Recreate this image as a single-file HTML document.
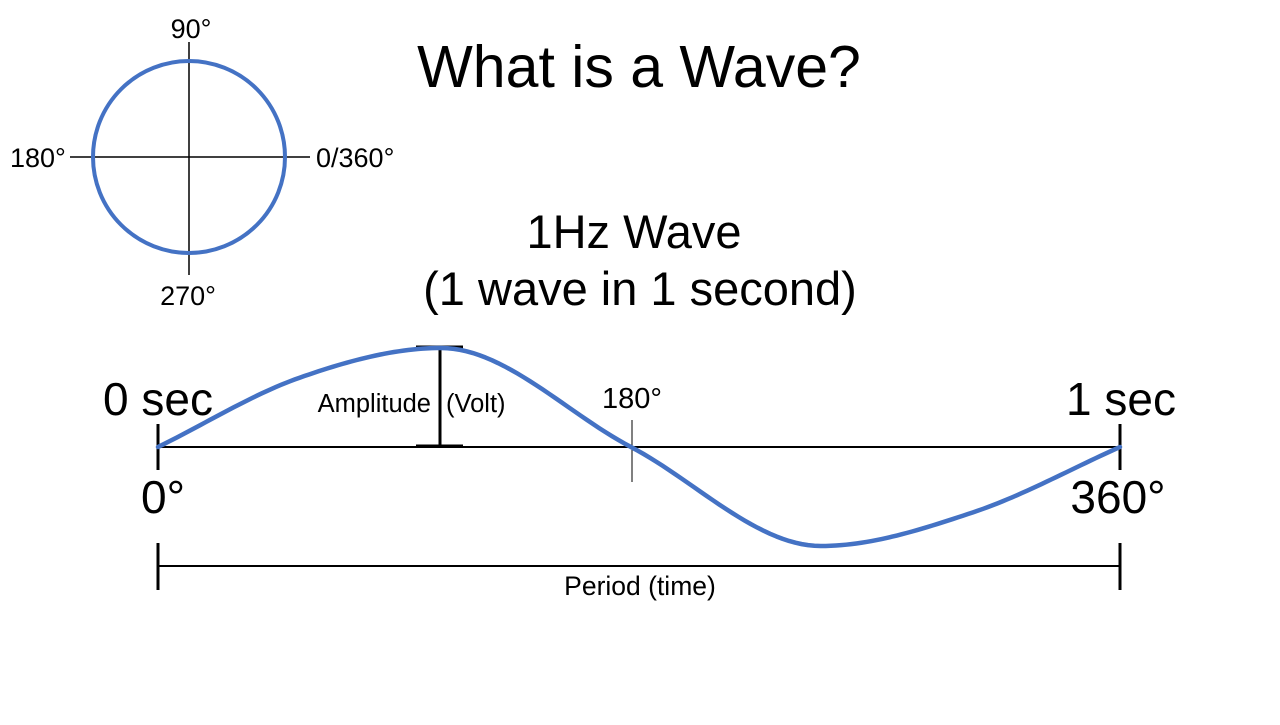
<!DOCTYPE html>
<html><head><meta charset="utf-8"><style>
body{margin:0;background:#fff;}
svg text{font-family:"Liberation Sans",Arial,sans-serif;fill:#000;}
</style></head><body>
<svg id="chart" width="1280" height="720">
<rect width="1280" height="720" fill="#fff"/>
<text x="639" y="87" font-size="59" text-anchor="middle">What is a Wave?</text>
<g>
<line x1="70" y1="157" x2="310" y2="157" stroke="#000" stroke-width="1.5"/>
<line x1="189" y1="42" x2="189" y2="275" stroke="#000" stroke-width="1.5"/>
<circle cx="189" cy="157" r="96" fill="none" stroke="#4472C4" stroke-width="4"/>
<text x="191" y="38" font-size="27" text-anchor="middle">90°</text>
<text x="10" y="167" font-size="27">180°</text>
<text x="316" y="167" font-size="27">0/360°</text>
<text x="188" y="305" font-size="27" text-anchor="middle">270°</text>
</g>
<text x="634" y="248" font-size="47" text-anchor="middle">1Hz Wave</text>
<text x="640" y="305" font-size="47" text-anchor="middle">(1 wave in 1 second)</text>
<line x1="158" y1="447" x2="1120" y2="447" stroke="#000" stroke-width="2"/>
<line x1="158" y1="424" x2="158" y2="470" stroke="#000" stroke-width="3"/>
<line x1="1120" y1="424" x2="1120" y2="470" stroke="#000" stroke-width="3"/>
<line x1="632" y1="420" x2="632" y2="482" stroke="#000" stroke-width="1"/>
<text x="158" y="415" font-size="46" text-anchor="middle">0 sec</text>
<text x="1121" y="415" font-size="46" text-anchor="middle">1 sec</text>
<text x="163" y="513" font-size="46" text-anchor="middle">0°</text>
<text x="1118" y="513" font-size="46" text-anchor="middle">360°</text>
<text x="632" y="408" font-size="29" text-anchor="middle">180°</text>
<g>
<line x1="440" y1="347" x2="440" y2="446" stroke="#000" stroke-width="3"/>
<line x1="416" y1="347" x2="463" y2="347" stroke="#000" stroke-width="3"/>
<line x1="416" y1="446" x2="463" y2="446" stroke="#000" stroke-width="3"/>
</g>
<text x="431" y="412" font-size="25.5" text-anchor="end">Amplitude</text>
<text x="446" y="412" font-size="25.5">(Volt)</text>
<path id="wave" fill="none" stroke="#4472C4" stroke-width="4.5" stroke-linecap="round" stroke-linejoin="round"/>
<g>
<line x1="158" y1="566" x2="1120" y2="566" stroke="#000" stroke-width="2"/>
<line x1="158" y1="543" x2="158" y2="590" stroke="#000" stroke-width="3"/>
<line x1="1120" y1="543" x2="1120" y2="590" stroke="#000" stroke-width="3"/>
</g>
<text x="640" y="595" font-size="26.5" text-anchor="middle">Period (time)</text>
</svg>
<script>
const phases = [0,53,106,177,248,305,360];
const amplitudes = [0,0.70,1.0,0,-1.0,-0.66,0];
function xScale(p){return 158 + p*(1120-158)/360;}
function yScale(a){return 447 - a*99;}
// cubic Hermite: zero slope at extrema, averaged secant slope elsewhere
const n = phases.length;
const dl = [], m = [];
for(let i=0;i<n-1;i++) dl.push((amplitudes[i+1]-amplitudes[i])/(phases[i+1]-phases[i]));
m[0]=dl[0]; m[n-1]=dl[n-2];
for(let i=1;i<n-1;i++){
  if(dl[i-1]*dl[i]<=0) m[i]=0;
  else m[i]=(dl[i-1]+dl[i])/2;
}
let d = '';
for(let i=0;i<n-1;i++){
  const h=phases[i+1]-phases[i];
  for(let s=0;s<=30;s++){
    if(i>0 && s===0) continue;
    const t=s/30, t2=t*t, t3=t2*t;
    const v=(2*t3-3*t2+1)*amplitudes[i]+(t3-2*t2+t)*h*m[i]+(-2*t3+3*t2)*amplitudes[i+1]+(t3-t2)*h*m[i+1];
    const x=xScale(phases[i]+t*h), y=yScale(v);
    d += (d===''?'M':' L') + x.toFixed(2)+','+y.toFixed(2);
  }
}
document.getElementById('wave').setAttribute('d', d);
</script>
</body></html>
